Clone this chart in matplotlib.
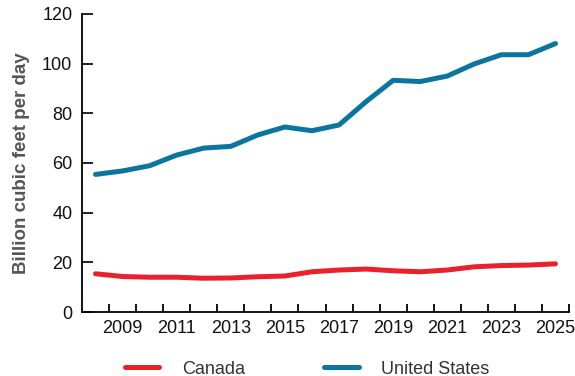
import numpy as np
import matplotlib
matplotlib.use("Agg")
import matplotlib.pyplot as plt

years = np.arange(2008, 2026)
us = [55.4, 56.8, 58.9, 63.2, 66.0, 66.7, 71.3, 74.5, 73.0, 75.3,
      84.7, 93.3, 92.8, 95.0, 99.9, 103.6, 103.6, 108.1]
canada = [15.4, 14.3, 14.0, 14.0, 13.6, 13.7, 14.2, 14.5, 16.2, 16.9,
          17.3, 16.6, 16.2, 16.9, 18.2, 18.7, 18.9, 19.4]
year_labels = [str(y) for y in range(2009, 2026, 2)]

plt.rcParams["font.family"] = ["Liberation Sans", "DejaVu Sans"]

fig = plt.figure(figsize=(5.75, 3.76), dpi=100)
ax = fig.add_axes([0.1426, 0.1702, 0.847, 0.7926])

ax.plot(years, canada, color="#E8212B", linewidth=3.6, solid_capstyle="round", label="Canada")
ax.plot(years, us, color="#0B75A0", linewidth=3.6, solid_capstyle="round", label="United States")

ax.set_xlim(2007.5, 2025.5)
ax.set_ylim(0, 120)
ax.set_yticks(range(0, 121, 20))
# tick marks sit between years, labels on the odd years
ax.set_xticks(np.arange(2008.5, 2025.6, 1))
ax.set_xticklabels([])
ax.set_xticks(range(2009, 2026, 2), minor=True)
ax.set_xticklabels(year_labels, minor=True)
ax.tick_params(axis="x", which="minor", length=0, pad=6, labelsize=13, colors="#111111")
ax.tick_params(axis="x", which="major", direction="in", length=6, width=1.3)
ax.tick_params(axis="y", direction="in", length=8, width=1.3, pad=7, labelsize=13, colors="#111111")

for side in ("top", "right"):
    ax.spines[side].set_visible(False)
for side in ("left", "bottom"):
    ax.spines[side].set_linewidth(1.3)

ax.set_ylabel("Billion cubic feet per day", fontsize=13.5, fontweight="bold", color="#555555", labelpad=9)

fig.legend(loc="center left", bbox_to_anchor=(125 / 575, 1 - 369 / 376), ncol=2, frameon=False,
           fontsize=13, handlelength=1.9, columnspacing=4.4, handletextpad=1.25,
           borderpad=0, borderaxespad=0, labelcolor="#333333")

fig.savefig("out.png", dpi=100)
